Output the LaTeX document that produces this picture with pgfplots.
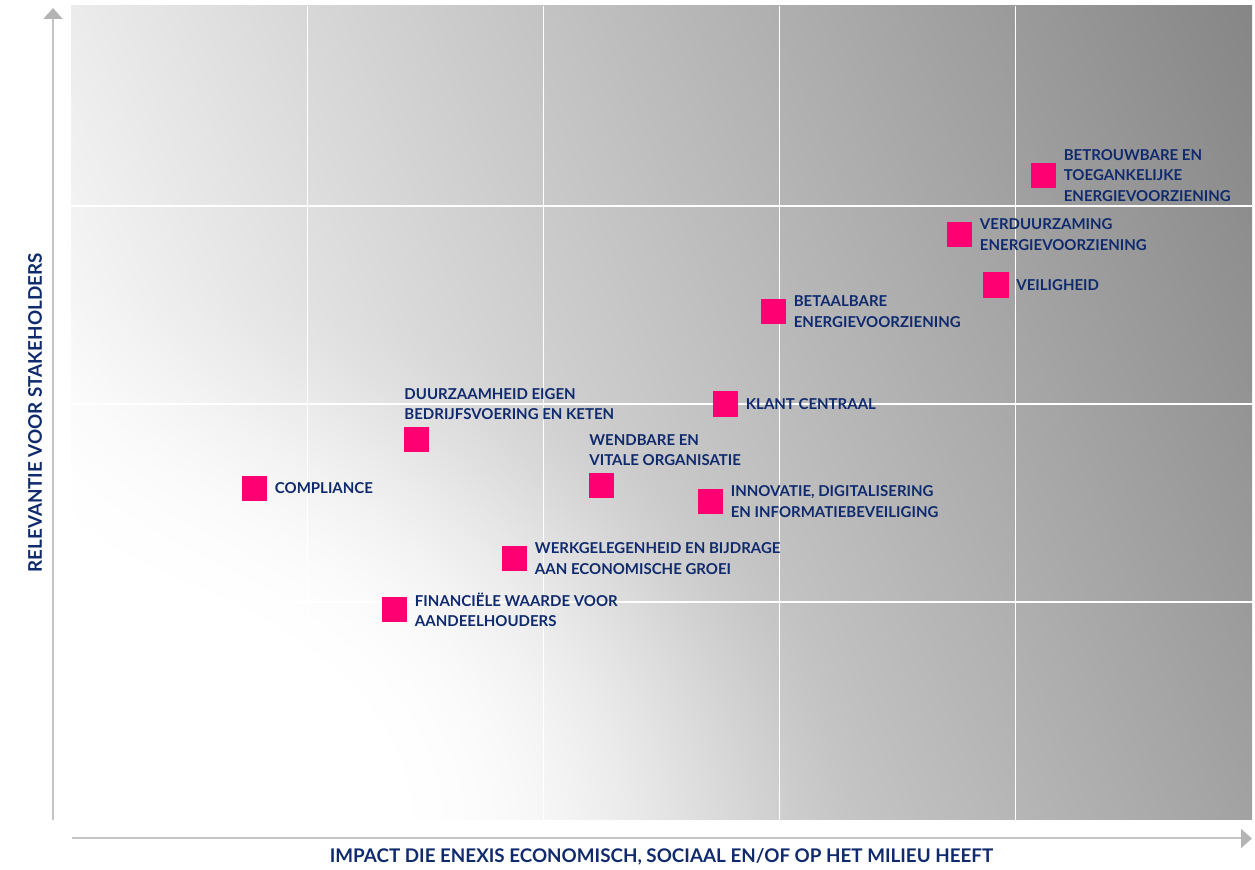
\documentclass[border=0pt]{standalone}
\usepackage{fontspec}
\setmainfont{Lato}
\usepackage{pgfplots}
\pgfplotsset{compat=1.18}
\usetikzlibrary{arrows.meta}
\definecolor{navy}{RGB}{16,42,110}
\definecolor{enpink}{RGB}{255,0,115}
\definecolor{arrowgray}{RGB}{196,196,196}
\definecolor{headgray}{RGB}{180,180,180}

% visible part of the shading is x,y in [-25bp,25bp]
\pgfdeclarefunctionalshading{matbg}{\pgfpoint{-50bp}{-50bp}}{\pgfpoint{50bp}{50bp}}{}{
25 add 16.28 mul exch 25 add 23.56 mul exch
2 copy 0.000135 mul exch 0.000338 mul add 1.033 exch sub
3 1 roll 814 div dup mul exch 1178 div dup mul add sqrt
0.25 sub 0.43 div
dup 0 lt {pop 0} if dup 1 gt {pop 1} if
dup dup mul exch 2 mul 3 exch sub mul
1 exch sub
exch dup 1 exch sub 3 -1 roll mul add
dup 1 gt {pop 1} if dup 0 lt {pop 0} if dup dup
}

\tikzset{
  lbl/.style={font=\bfseries\fontsize{7.5}{10.2}\selectfont, text=navy, align=left, inner sep=0pt},
  rlbl/.style={lbl, anchor=west, xshift=10pt},
  albl/.style={lbl, anchor=south west, xshift=-6.25pt, yshift=9.6pt},
}

\begin{document}
\begin{tikzpicture}
\begin{axis}[
  scale only axis, width=590.5pt, height=407pt,
  xmin=0, xmax=5, ymin=-0.101, ymax=4.01,
  axis line style={draw=none},
  xtick={1,2,3,4}, ytick={1,2,3},
  xticklabels={}, yticklabels={},
  major tick length=0pt,
  grid=major,
  major grid style={draw=white, line width=0.6pt},
  axis background/.style={shade, shading=matbg},
  clip=false,
]
\addplot[only marks, mark=square*, mark size=6.05pt,
  mark options={draw=enpink, fill=enpink}] coordinates {
  (4.117,3.154) (3.762,2.856) (3.916,2.601) (2.974,2.467) (2.771,2.000)
  (1.463,1.821) (2.246,1.588) (2.707,1.508) (0.777,1.573) (1.878,1.220)
  (1.370,0.962)
};
\node[rlbl] at (axis cs:4.117,3.154) {BETROUWBARE EN\\TOEGANKELIJKE\\ENERGIEVOORZIENING};
\node[rlbl] at (axis cs:3.762,2.856) {VERDUURZAMING\\ENERGIEVOORZIENING};
\node[rlbl] at (axis cs:3.916,2.601) {VEILIGHEID};
\node[rlbl] at (axis cs:2.974,2.467) {BETAALBARE\\ENERGIEVOORZIENING};
\node[rlbl] at (axis cs:2.771,2.000) {KLANT CENTRAAL};
\node[albl] at (axis cs:1.463,1.821) {DUURZAAMHEID EIGEN\\BEDRIJFSVOERING EN KETEN};
\node[albl] at (axis cs:2.246,1.588) {WENDBARE EN\\VITALE ORGANISATIE};
\node[rlbl] at (axis cs:2.707,1.508) {INNOVATIE, DIGITALISERING\\EN INFORMATIEBEVEILIGING};
\node[rlbl] at (axis cs:0.777,1.573) {COMPLIANCE};
\node[rlbl] at (axis cs:1.878,1.220) {WERKGELEGENHEID EN BIJDRAGE\\AAN ECONOMISCHE GROEI};
\node[rlbl] at (axis cs:1.370,0.962) {FINANCIËLE WAARDE VOOR\\AANDEELHOUDERS};
\end{axis}
% arrows
\draw[arrowgray, line width=1pt, -{Triangle[width=9.5pt,length=5.5pt,color=headgray]}]
  (current axis.south west) ++(-9pt,0) -- ++(0,406pt);
\draw[arrowgray, line width=1pt, -{Triangle[width=9.5pt,length=5.5pt,color=headgray]}]
  (current axis.south west) ++(0.5pt,-9.25pt) -- ++(590pt,0);
% axis titles
\path (current axis.west) ++(-18pt,0) node[rotate=90, font=\bfseries\fontsize{9.4}{11}\selectfont, text=navy, inner sep=0pt] {RELEVANTIE VOOR STAKEHOLDERS};
\path (current axis.south) ++(0,-18.5pt) node[font=\bfseries\fontsize{9.4}{11}\selectfont, text=navy, inner sep=0pt] {IMPACT DIE ENEXIS ECONOMISCH, SOCIAAL EN/OF OP HET MILIEU HEEFT};
% page frame
\path (current axis.south west) ++(-35.5pt,-24.5pt) rectangle ++(627.5pt,434.5pt);
\end{tikzpicture}
\end{document}
